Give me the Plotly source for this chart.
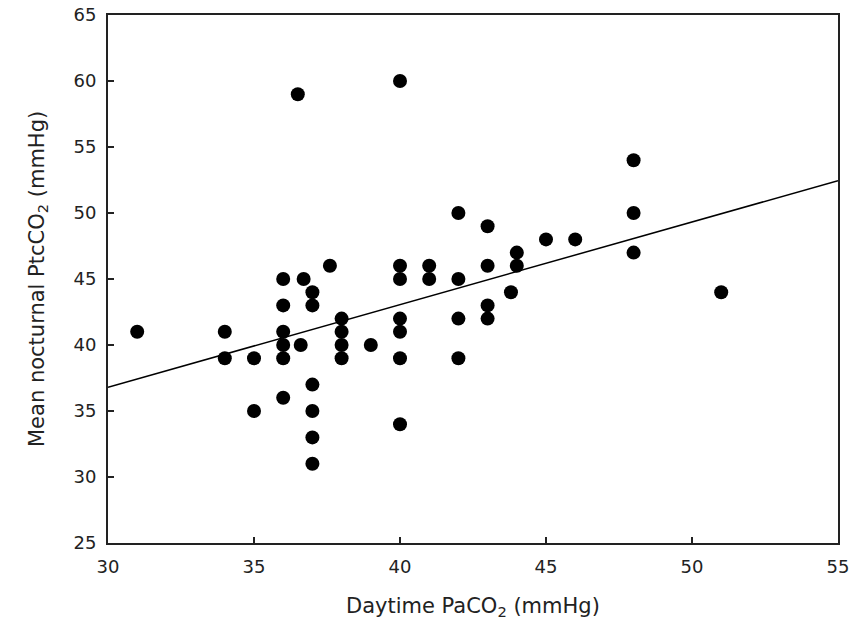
import plotly.graph_objects as go

# Daytime PaCO2 (mmHg)
daytime_paco2 = [
    31,
    34, 34,
    35, 35,
    36, 36, 36, 36, 36, 36,
    36.5, 36.7, 36.6,
    37, 37, 37, 37, 37, 37,
    37.6,
    38, 38, 38, 38,
    39,
    40, 40, 40, 40, 40, 40, 40,
    41, 41,
    42, 42, 42, 42,
    43, 43, 43, 43,
    44, 44, 43.8,
    45,
    46,
    48, 48, 48,
    51,
]
# Mean nocturnal PtcCO2 (mmHg)
nocturnal_ptcco2 = [
    41,
    41, 39,
    39, 35,
    45, 43, 41, 40, 39, 36,
    59, 45, 40,
    44, 43, 37, 35, 33, 31,
    46,
    42, 41, 40, 39,
    40,
    60, 46, 45, 42, 41, 39, 34,
    46, 45,
    50, 45, 42, 39,
    49, 46, 43, 42,
    47, 46, 44,
    48,
    48,
    54, 50, 47,
    44,
]

# Regression line endpoints
fit_x = [30, 55]
fit_y = [36.8, 52.45]

x_ticks = [30, 35, 40, 45, 50, 55]
y_ticks = [25, 30, 35, 40, 45, 50, 55, 60, 65]

x_title = "Daytime PaCO<sub>2</sub> (mmHg)"
y_title = "Mean nocturnal PtcCO<sub>2</sub> (mmHg)"

FONT = "DejaVu Sans"
TXT = "#222"

fig = go.Figure()
fig.add_trace(go.Scatter(
    x=fit_x, y=fit_y, mode="lines",
    line=dict(color="black", width=1.5),
    showlegend=False, hoverinfo="skip",
))
fig.add_trace(go.Scatter(
    x=daytime_paco2, y=nocturnal_ptcco2, mode="markers",
    marker=dict(color="black", size=14, line=dict(width=0)),
    showlegend=False,
))

axis_common = dict(
    showgrid=False, zeroline=False, automargin=False,
    showline=True, linecolor="#222", linewidth=2, mirror=True,
    ticks="inside", ticklen=6, tickwidth=1.5, tickcolor="#222",
    tickfont=dict(family=FONT, size=18, color=TXT),
    ticklabelstandoff=6,
)

fig.update_layout(
    width=853, height=623,
    margin=dict(l=108, r=15, t=15, b=80),
    paper_bgcolor="white", plot_bgcolor="white",
    font=dict(family=FONT, color=TXT),
    xaxis=dict(range=[30, 55], tickvals=x_ticks, **axis_common),
    yaxis=dict(range=[25, 65], tickvals=y_ticks, **axis_common),
    annotations=[
        dict(text=x_title, xref="paper", yref="paper",
             x=0.5, y=(543 - 607) / 528, xanchor="center", yanchor="middle",
             showarrow=False, font=dict(family=FONT, size=21, color=TXT)),
        dict(text=y_title, xref="paper", yref="paper",
             x=(38 - 108) / 730, y=0.5, xanchor="center", yanchor="middle",
             textangle=-90, showarrow=False,
             font=dict(family=FONT, size=21, color=TXT)),
    ],
)

fig.write_html("out.html")
